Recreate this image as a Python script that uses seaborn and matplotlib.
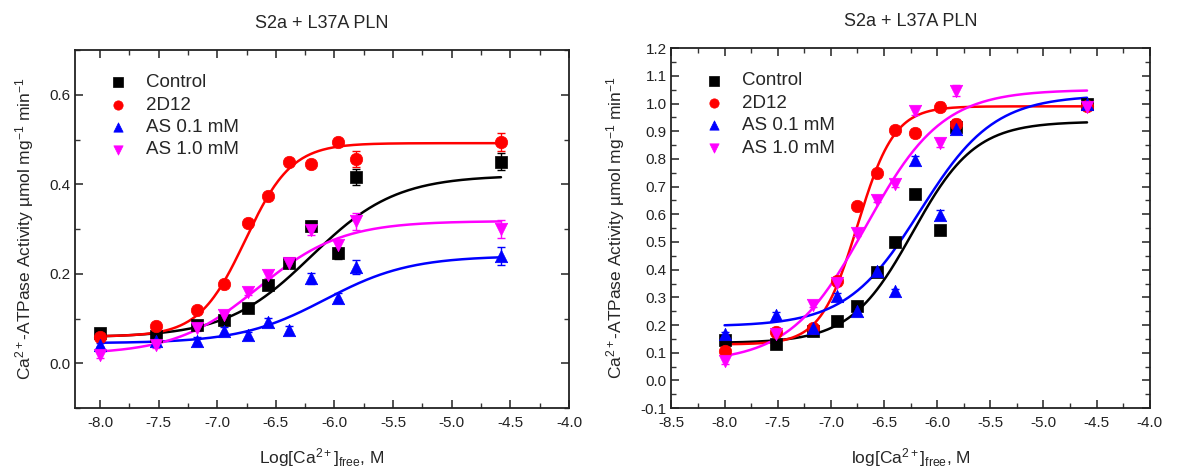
import numpy as np
import pandas as pd
import matplotlib
matplotlib.use("Agg")
import matplotlib.pyplot as plt
import matplotlib.ticker as mticker
import seaborn as sns

# ─── Data ─────────────────────────────────────────────────────────────────────
SERIES  = ["Control", "2D12", "AS 0.1 mM", "AS 1.0 mM"]
COLORS  = ["#000000", "#FF0000", "#0000FF", "#FF00FF"]
MARKERS = ["s", "o", "^", "v"]

# left panel
x_left = [-8.0, -7.52, -7.17, -6.94, -6.74, -6.57, -6.39, -6.2, -5.97, -5.82, -4.58]
left_control = [0.068, 0.062, 0.086, 0.097, 0.123, 0.175, 0.225, 0.308, 0.246, 0.416, 0.451]
left_2d12    = [0.058, 0.084, 0.119, 0.177, 0.314, 0.373, 0.450, 0.446, 0.494, 0.457, 0.494]
left_as01    = [0.041, 0.050, 0.049, 0.073, 0.063, 0.093, 0.075, 0.190, 0.146, 0.216, 0.239]
left_as10    = [0.019, 0.040, 0.078, 0.108, 0.160, 0.198, 0.225, 0.297, 0.265, 0.317, 0.300]
left_err_control = [0.005, 0.005, 0.005, 0.008, 0.005, 0.008, 0.008, 0.010, 0.012, 0.018, 0.020]
left_err_2d12    = [0.005, 0.006, 0.005, 0.005, 0.005, 0.005, 0.006, 0.008, 0.008, 0.018, 0.020]
left_err_as01    = [0.005, 0.005, 0.010, 0.008, 0.008, 0.008, 0.008, 0.012, 0.012, 0.016, 0.020]
left_err_as10    = [0.008, 0.006, 0.006, 0.005, 0.008, 0.008, 0.008, 0.010, 0.010, 0.018, 0.020]

# right panel
x_right = [-8.0, -7.52, -7.17, -6.94, -6.75, -6.57, -6.4, -6.21, -5.97, -5.82, -4.59]
right_control = [0.145, 0.130, 0.180, 0.216, 0.270, 0.392, 0.500, 0.674, 0.544, 0.917, 1.000]
right_2d12    = [0.106, 0.174, 0.190, 0.360, 0.629, 0.749, 0.905, 0.893, 0.989, 0.925, 0.990]
right_as01    = [0.166, 0.238, 0.190, 0.304, 0.250, 0.394, 0.322, 0.795, 0.599, 0.909, 0.998]
right_as10    = [0.070, 0.166, 0.274, 0.352, 0.532, 0.653, 0.710, 0.974, 0.859, 1.047, 0.989]
right_err = [0.01, 0.01, 0.01, 0.01, 0.01, 0.01, 0.01, 0.015, 0.015, 0.02, 0.01]

# Hill fit parameters: bottom, top, logEC50, slope
left_fit = {
    "Control":   (0.058, 0.420, -6.20, 1.20),
    "2D12":      (0.060, 0.492, -6.76, 2.20),
    "AS 0.1 mM": (0.045, 0.240, -6.08, 1.20),
    "AS 1.0 mM": (0.020, 0.318, -6.65, 1.22),
}
right_fit = {
    "Control":   (0.135, 0.935, -6.23, 1.48),
    "2D12":      (0.130, 0.990, -6.75, 2.50),
    "AS 0.1 mM": (0.195, 1.030, -6.16, 1.25),
    "AS 1.0 mM": (0.065, 1.050, -6.67, 1.21),
}

# ─── Style ────────────────────────────────────────────────────────────────────
sns.set_theme(style="ticks")
plt.rcParams.update({
    "font.family": ["Liberation Sans", "DejaVu Sans"],
    "mathtext.fontset": "custom",
    "mathtext.rm": "Liberation Sans",
    "mathtext.it": "Liberation Sans:italic",
    "axes.edgecolor": "#222222",
    "axes.linewidth": 1.3,
    "xtick.direction": "in",
    "ytick.direction": "in",
    "xtick.top": True,
    "ytick.right": True,
    "xtick.color": "#333333",
    "ytick.color": "#333333",
})

YLABEL = r"Ca$^{2+}$-ATPase Activity µmol mg$^{-1}$ min$^{-1}$"


def hill(x, bottom, top, ec50, n):
    return bottom + (top - bottom) / (1 + 10 ** (n * (ec50 - x)))


def draw_panel(ax, xs, ys, errs, fits, xlim, ylim, xlabel, ymajor):
    curve_x = np.linspace(min(xs), max(xs), 300)
    for name, color, marker, y, e in zip(SERIES, COLORS, MARKERS, ys, errs):
        df = pd.DataFrame({"x": curve_x, "y": hill(curve_x, *fits[name])})
        sns.lineplot(data=df, x="x", y="y", color=color, lw=1.8, ax=ax, legend=False)
        ax.errorbar(xs, y, yerr=e, fmt="none", ecolor=color, elinewidth=1.0,
                    capsize=3, capthick=1.0, zorder=3)
        sns.scatterplot(x=xs, y=y, marker=marker, color=color, s=80, edgecolor=color,
                        linewidth=0.5, ax=ax, label=name, zorder=4)
    ax.set_xlim(*xlim)
    ax.set_ylim(*ylim)
    ax.xaxis.set_major_locator(mticker.MultipleLocator(0.5))
    ax.xaxis.set_minor_locator(mticker.MultipleLocator(0.25))
    ax.yaxis.set_major_locator(mticker.MultipleLocator(ymajor))
    ax.yaxis.set_minor_locator(mticker.MultipleLocator(ymajor / 2))
    ax.xaxis.set_major_formatter(mticker.FormatStrFormatter("%.1f"))
    ax.yaxis.set_major_formatter(mticker.FormatStrFormatter("%.1f"))
    ax.tick_params(which="major", length=6, width=1.2, labelsize=11, labelcolor="#222222")
    ax.tick_params(axis="x", which="major", pad=6)
    ax.tick_params(which="minor", length=3.5, width=1.0)
    ax.set_xlabel(xlabel, fontsize=12.5, labelpad=11)
    ax.set_ylabel(YLABEL, fontsize=12.5, labelpad=10)
    ax.set_title("S2a + L37A PLN", fontsize=13, pad=16)
    ax.legend(loc="upper left", frameon=False, fontsize=13.5,
              handletextpad=0.5, labelspacing=0.28, borderaxespad=0.6,
              markerscale=0.75, bbox_to_anchor=(0.01, 0.985))


fig = plt.figure(figsize=(11.78, 4.68), dpi=100)
ax1 = fig.add_axes([0.064, 0.128, 0.419, 0.765])
ax2 = fig.add_axes([0.570, 0.128, 0.406, 0.769])

draw_panel(ax1, x_left,
           [left_control, left_2d12, left_as01, left_as10],
           [left_err_control, left_err_2d12, left_err_as01, left_err_as10],
           left_fit, (-8.21, -4.0), (-0.1, 0.7),
           r"Log[Ca$^{2+}$]$_{\rm free}$, M", 0.2)
draw_panel(ax2, x_right,
           [right_control, right_2d12, right_as01, right_as10],
           [right_err] * 4,
           right_fit, (-8.5, -4.0), (-0.1, 1.2),
           r"log[Ca$^{2+}$]$_{\rm free}$, M", 0.1)
ax2.yaxis.set_minor_locator(mticker.MultipleLocator(0.05))

plt.savefig("out.png", dpi=100)
